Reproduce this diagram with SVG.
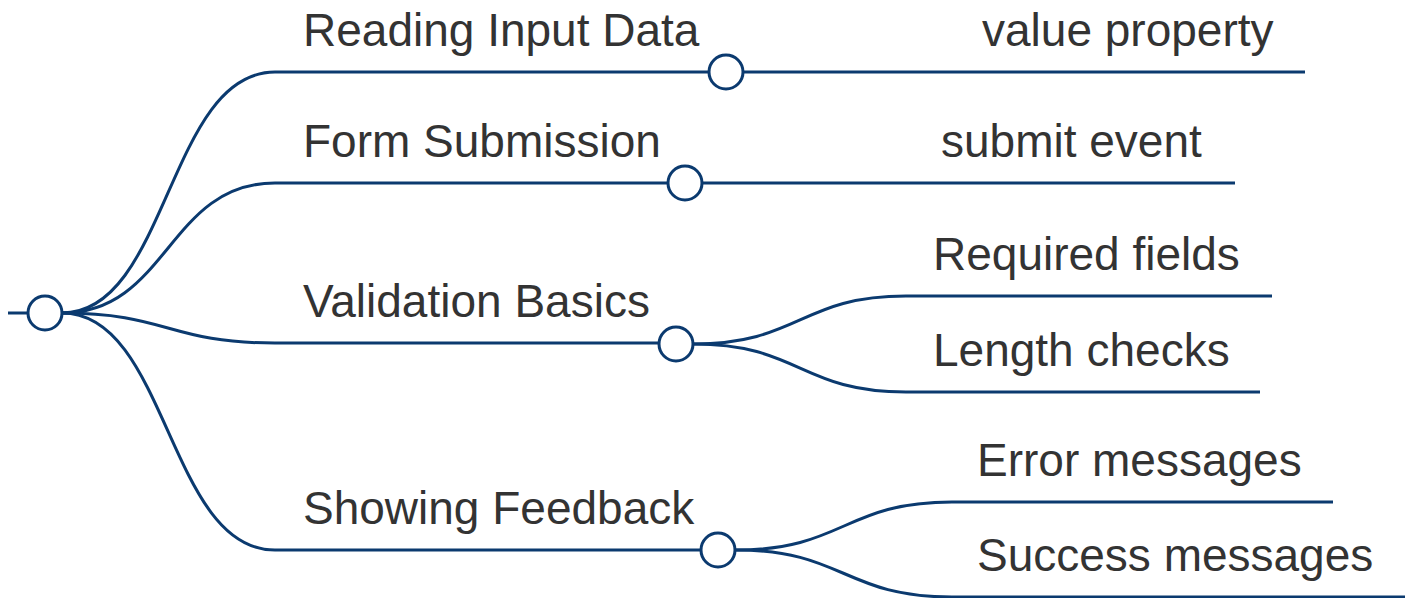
<svg xmlns="http://www.w3.org/2000/svg" width="1411" height="598" viewBox="0 0 1411 598">
  <style>
    .link { fill: none; stroke: #0b3a6f; stroke-width: 3; }
    .bar { fill: none; stroke: #0b3a6f; stroke-width: 3; }
    .dot { fill: #ffffff; stroke: #0b3a6f; stroke-width: 3; }
    .label { font-family: "Liberation Sans", Arial, sans-serif; font-size: 46px; fill: #333333; }
  </style>
  <rect width="1411" height="598" fill="#ffffff"/>

  <!-- curved links between nodes -->
  <g id="connectors">
    <path class="link" d="M62,313 C168,313 168,72 275,72"/>
    <path class="link" d="M62,313 C168,313 168,183 275,183"/>
    <path class="link" d="M62,313 C168,313 168,343 275,343"/>
    <path class="link" d="M62,313 C168,313 168,550 275,550"/>
    <path class="link" d="M743,72 L955,72"/>
    <path class="link" d="M702,183 L914,183"/>
    <path class="link" d="M693,344 C800,344 800,296 906,296"/>
    <path class="link" d="M693,344 C800,344 800,392 906,392"/>
    <path class="link" d="M736,550 C844,550 844,502 952,502"/>
    <path class="link" d="M736,550 C844,550 844,597 952,597"/>
  </g>

  <g id="root">
    <line class="bar" x1="8" y1="313" x2="27" y2="313"/>
    <circle class="dot" cx="45" cy="313" r="17"/>
  </g>

  <g id="reading-input-data">
    <line class="bar" x1="275" y1="72" x2="709" y2="72"/>
    <text class="label" x="303" y="46">Reading Input Data</text>
    <circle class="dot" cx="726" cy="72" r="17"/>
  </g>

  <g id="value-property">
    <line class="bar" x1="955" y1="72" x2="1305" y2="72"/>
    <text class="label" x="982" y="46">value property</text>
  </g>

  <g id="form-submission">
    <line class="bar" x1="275" y1="183" x2="668" y2="183"/>
    <text class="label" x="303" y="157">Form Submission</text>
    <circle class="dot" cx="685" cy="183" r="17"/>
  </g>

  <g id="submit-event">
    <line class="bar" x1="914" y1="183" x2="1235" y2="183"/>
    <text class="label" x="941" y="157">submit event</text>
  </g>

  <g id="validation-basics">
    <line class="bar" x1="275" y1="343" x2="659" y2="343"/>
    <text class="label" x="303" y="317">Validation Basics</text>
    <circle class="dot" cx="676" cy="344" r="17"/>
  </g>

  <g id="required-fields">
    <line class="bar" x1="906" y1="296" x2="1272" y2="296"/>
    <text class="label" x="933" y="270">Required fields</text>
  </g>

  <g id="length-checks">
    <line class="bar" x1="906" y1="392" x2="1260" y2="392"/>
    <text class="label" x="933" y="366">Length checks</text>
  </g>

  <g id="showing-feedback">
    <line class="bar" x1="275" y1="550" x2="701" y2="550"/>
    <text class="label" x="303" y="524">Showing Feedback</text>
    <circle class="dot" cx="718" cy="550" r="17"/>
  </g>

  <g id="error-messages">
    <line class="bar" x1="952" y1="502" x2="1333" y2="502"/>
    <text class="label" x="977" y="476">Error messages</text>
  </g>

  <g id="success-messages">
    <line class="bar" x1="952" y1="597" x2="1405" y2="597"/>
    <text class="label" x="977" y="571">Success messages</text>
  </g>
</svg>
